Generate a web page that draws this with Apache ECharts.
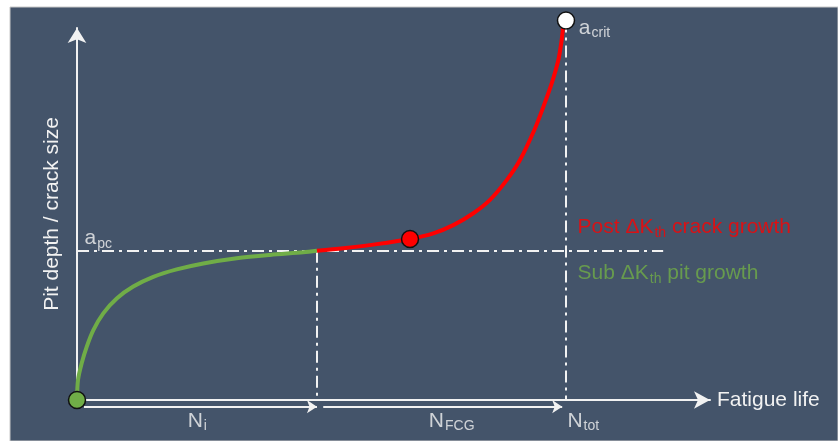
<!DOCTYPE html>
<html>
<head>
<meta charset="utf-8">
<script src="https://cdn.jsdelivr.net/npm/echarts@6/dist/echarts.min.js"></script>
<style>
html,body{margin:0;padding:0;background:#fff;}
#c{width:838px;height:441px;}
</style>
</head>
<body>
<div id="c"></div>
<script>
// ---- data ----
const xMax = 100, yMax = 100;
const N_i = 37.91, N_tot = 77.25;
const a_pc = 40.1, a_crit = 102.0;
const pitX = [0, 0.16, 0.74, 1.53, 2.58, 4.15, 6.27, 8.89, 12.05, 15.75, 19.95, 25.23, 30.49, 35.75, 37.91];
const pitY = [0, 5.4, 9.9, 14.3, 18.8, 23.3, 27.3, 30.5, 33.1, 35.1, 36.7, 38.1, 39.0, 39.7, 40.1];
const crackX = [37.91, 42.07, 47.35, 52.61, 56.29, 59.45, 62.61, 65.24, 67.88, 69.98, 72.35, 73.67, 74.99, 76.04, 76.57, 76.94, 77.25];
const crackY = [40.1, 40.8, 41.9, 43.3, 44.8, 47.0, 50.2, 53.8, 59.1, 64.5, 73.0, 78.8, 85.1, 91.4, 96.8, 101.7, 102.0];
const transitionPoint = [52.61, 43.3];
const lifeBarY = -1.8;
const xAxisName = 'Fatigue life';
const yAxisName = 'Pit depth / crack size';

const BG = '#44546a', FG = '#f2f2f2', GREEN = '#70ad47', RED = '#ff0000';
const FONT = '"Liberation Sans", Arial, sans-serif';
const dashDot = [12, 5, 3, 5];

const zip = (a, b) => a.map((v, i) => [v, b[i]]);

const chart = echarts.init(document.getElementById('c'), null, {renderer: 'canvas'});

function txt(pos, fmt, color) {
  return {
    type: 'scatter', data: [pos], symbolSize: 1, silent: true, clip: false, z: 6,
    itemStyle: {color: 'rgba(0,0,0,0)'},
    label: {
      show: true, position: 'right', distance: 0, formatter: fmt,
      rich: {
        m: {fontSize: 21, color: color, fontFamily: FONT, lineHeight: 24},
        s: {fontSize: 14, color: color, fontFamily: FONT, padding: [11, 0, 0, 1], lineHeight: 16}
      }
    }
  };
}

const option = {
  backgroundColor: '#ffffff',
  animation: false,
  graphic: [{
    type: 'rect', z: -100, silent: true,
    shape: {x: 10, y: 7, width: 828, height: 434},
    style: {fill: BG, stroke: '#c8c8c8', lineWidth: 1}
  }],
  grid: {left: 77, right: 128, top: 28, bottom: 41, containLabel: false},
  xAxis: {
    type: 'value', min: 0, max: xMax,
    splitLine: {show: false}, axisTick: {show: false}, axisLabel: {show: false},
    axisLine: {show: true, symbol: ['none', 'arrow'], symbolSize: [13, 16],
      lineStyle: {color: FG, width: 2}},
    name: xAxisName, nameLocation: 'end', nameGap: 7,
    nameTextStyle: {color: FG, fontSize: 21, fontFamily: FONT}
  },
  yAxis: {
    type: 'value', min: 0, max: yMax,
    splitLine: {show: false}, axisTick: {show: false}, axisLabel: {show: false},
    axisLine: {show: true, symbol: ['none', 'arrow'], symbolSize: [14, 15],
      lineStyle: {color: FG, width: 2}},
    name: yAxisName, nameLocation: 'middle', nameGap: 14, nameRotate: 90,
    nameTextStyle: {color: FG, fontSize: 21, fontFamily: FONT}
  },
  series: [
    {
      // dash-dot reference lines
      type: 'lines', coordinateSystem: 'cartesian2d', clip: false, z: 3, silent: true,
      symbol: 'none',
      lineStyle: {color: FG, width: 2, type: dashDot, opacity: 1},
      data: [
        {coords: [[0, a_pc], [92.6, a_pc]]},
        {coords: [[N_i, a_pc], [N_i, 0]]},
        {coords: [[N_tot, a_crit], [N_tot, 0]]}
      ]
    },
    {
      // life bars with arrows
      type: 'lines', coordinateSystem: 'cartesian2d', clip: false, z: 3, silent: true,
      symbol: ['none', 'arrow'], symbolSize: [10, 10],
      lineStyle: {color: FG, width: 2, type: 'solid', opacity: 1},
      data: [
        {coords: [[1.1, lifeBarY], [N_i, lifeBarY]]},
        {coords: [[38.9, lifeBarY], [N_tot - 0.6, lifeBarY]]}
      ]
    },
    {
      type: 'line', data: zip(pitX, pitY), smooth: 0.3, showSymbol: false, clip: false, z: 4,
      lineStyle: {color: GREEN, width: 4}
    },
    {
      type: 'line', data: zip(crackX, crackY), smooth: 0.3, showSymbol: false, clip: false, z: 4,
      lineStyle: {color: RED, width: 4}
    },
    {
      type: 'scatter', clip: false, z: 5, symbolSize: 17,
      data: [
        {value: [0, 0], itemStyle: {color: GREEN}},
        {value: transitionPoint, itemStyle: {color: RED}},
        {value: [N_tot, a_crit], itemStyle: {color: '#ffffff'}}
      ],
      itemStyle: {borderColor: '#111', borderWidth: 1.5, opacity: 1}
    },
    txt([1.1, 43.5], '{m|a}{s|pc}', FG),
    txt([79.2, 100.0], '{m|a}{s|crit}', FG),
    txt([79.0, 46.4], '{m|Post ΔK}{s|th}{m| crack growth}', RED),
    txt([79.0, 34.0], '{m|Sub ΔK}{s|th}{m| pit growth}', GREEN),
    txt([17.4, -5.6], '{m|N}{s|i}', FG),
    txt([55.5, -5.6], '{m|N}{s|FCG}', FG),
    txt([77.4, -5.6], '{m|N}{s|tot}', FG)
  ]
};
chart.setOption(option);
</script>
</body>
</html>
